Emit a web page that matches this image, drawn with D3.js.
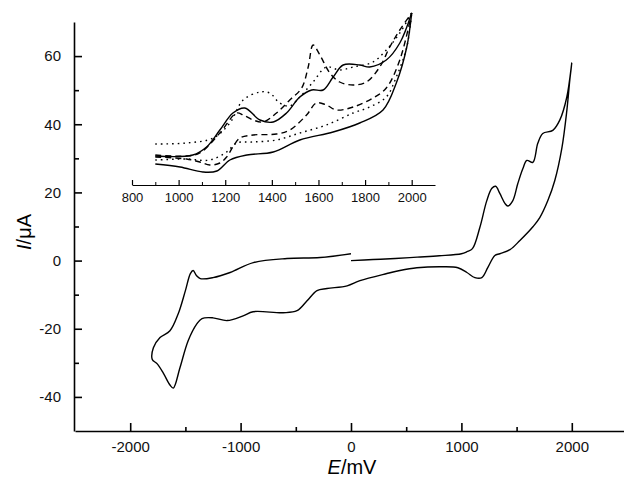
<!DOCTYPE html>
<html>
<head>
<meta charset="utf-8">
<style>
  body { margin: 0; background: #fff; }
  svg { display: block; }
  .axis text { font-family: "Liberation Sans", Arial, sans-serif; fill: #111; }
  .axis path, .axis line { stroke: #000; stroke-width: 1.6; }
  .curve { fill: none; stroke: #000; stroke-width: 1.4; stroke-linejoin: round; }
</style>
</head>
<body>
<svg id="chart" width="624" height="478"></svg>
<script src="https://d3js.org/d3.v7.min.js"></script>
<script>
// main cyclic voltammogram: E (mV), I (uA), in scan order
const cvE = [0, 200, 400, 600, 800, 1000, 1050, 1100, 1167, 1230, 1276, 1310, 1348, 1394, 1420, 1466, 1511, 1557, 1593, 1647, 1692, 1737, 1828, 1891, 1955, 2000,
  1982, 1955, 1910, 1846, 1783, 1710, 1650, 1530, 1440, 1348, 1303, 1240, 1185, 1122, 1050, 968, 833, 597, 443, 325, 81, -35, -217, -308, -398, -489, -615, -887, -977, -1122, -1250, -1350, -1395, -1475, -1550, -1610, -1640, -1700, -1755, -1800,
  -1790, -1730, -1640, -1565, -1500, -1455, -1430, -1400, -1365, -1250, -1095, -885, -580, -280, 0];
const cvI = [0, 0.3, 0.6, 1.0, 1.4, 2.0, 2.6, 3.5, 9.7, 17.6, 21.2, 21.8, 19.7, 16.8, 16.0, 17.6, 22.6, 27.0, 29.4, 28.8, 34.4, 37.3, 38.2, 41.2, 48.0, 58.0,
  53.0, 44.0, 33.0, 23.5, 17.6, 12.6, 10.0, 5.9, 3.2, 2.0, 1.5, -2.0, -5.0, -5.0, -3.5, -2.1, -1.8, -2.1, -2.9, -3.8, -5.9, -7.4, -8.2, -8.8, -11.8, -14.7, -15.3, -15.0, -16.2, -17.6, -16.8, -17.0, -18.5, -23.5, -31.5, -37.4, -36.5, -33.0, -30.3, -29.0,
  -25.6, -22.6, -20.6, -15.6, -8.8, -3.8, -2.9, -4.4, -5.3, -5.0, -3.5, -0.6, 0.6, 0.9, 2.0];

// inset: anodic region, three scans (forward / reverse branch each), arbitrary current units
const solidUpE = [900, 1061, 1120, 1177, 1233, 1284, 1349, 1406, 1463, 1520, 1571, 1620, 1663, 1706, 1777, 1820, 1891, 1949, 2000];
const solidUpI = [29, 30, 38, 55, 72, 77, 65, 63, 72, 88, 95, 95, 108, 120, 120, 118, 125, 142, 172];
const solidLoE = [900, 1006, 1104, 1164, 1220, 1293, 1406, 1520, 1663, 1777, 1877, 1934, 1979, 2000];
const solidLoI = [21, 18, 13, 14, 25, 30, 33, 45, 53, 62, 75, 102, 138, 172];
const dashUpE = [900, 1034, 1091, 1177, 1249, 1277, 1320, 1363, 1420, 1477, 1528, 1556, 1577, 1606, 1649, 1691, 1749, 1806, 1863, 1906, 1949, 2000];
const dashUpI = [30, 29, 32, 52, 72, 70, 65, 63, 72, 85, 97, 118, 140, 130, 112, 103, 100, 103, 118, 138, 155, 172];
const dashLoE = [900, 1034, 1091, 1134, 1177, 1206, 1233, 1263, 1320, 1420, 1477, 1549, 1591, 1634, 1677, 1749, 1834, 1891, 1949, 2000];
const dashLoI = [28, 26, 23, 20, 22, 28, 38, 47, 50, 51, 55, 70, 82, 80, 75, 78, 87, 97, 125, 172];
const dotUpE = [900, 1034, 1149, 1220, 1277, 1349, 1391, 1434, 1477, 1520, 1577, 1634, 1691, 1749, 1834, 1891, 1949, 2000];
const dotUpI = [41, 42, 47, 62, 85, 93, 92, 82, 79, 88, 103, 118, 115, 118, 123, 135, 152, 172];
const dotLoE = [900, 1034, 1134, 1206, 1249, 1320, 1420, 1520, 1634, 1749, 1820, 1891, 1934, 1979, 2000];
const dotLoI = [25, 26, 25, 33, 42, 43, 45, 52, 60, 72, 78, 88, 108, 138, 172];

const xMajor = [-2000, -1000, 0, 1000, 2000];
const xMinor = [-1500, -500, 500, 1500];
const yMajor = [-40, -20, 0, 20, 40, 60];
const yMinor = [-30, -10, 10, 30, 50];
const insetMajor = [800, 1000, 1200, 1400, 1600, 1800, 2000];
const insetMinor = [900, 1100, 1300, 1500, 1700, 1900];

const svg = d3.select("#chart");
const fmt = d => String(d);   // plain hyphen minus, as in the figure

const x = d3.scaleLinear().domain([-2500, 2500]).range([75, 627]);
const y = d3.scaleLinear().domain([-50, 70]).range([431, 22]);

// main axes
const gx = svg.append("g").attr("class", "axis").attr("transform", "translate(0,431)")
  .call(d3.axisBottom(x).tickValues(xMajor).tickSize(-8).tickSizeOuter(0).tickPadding(10).tickFormat(fmt));
gx.selectAll("text").attr("font-size", 15).attr("font-family", null);
svg.append("g").attr("class", "axis").attr("transform", "translate(0,431)")
  .call(d3.axisBottom(x).tickValues(xMinor).tickSize(-4).tickFormat(""))
  .select(".domain").remove();

const gy = svg.append("g").attr("class", "axis").attr("transform", "translate(74,0)")
  .call(d3.axisLeft(y).tickValues(yMajor).tickSize(-8).tickSizeOuter(0).tickPadding(13).tickFormat(fmt));
gy.selectAll("text").attr("font-size", 15).attr("font-family", null);
svg.append("g").attr("class", "axis").attr("transform", "translate(74,0)")
  .call(d3.axisLeft(y).tickValues(yMinor).tickSize(-5).tickFormat(""))
  .select(".domain").remove();

// axis titles
const xt = svg.append("text").attr("x", 352).attr("y", 474).attr("text-anchor", "middle")
  .attr("font-family", "Liberation Sans, Arial, sans-serif").attr("font-size", 20);
xt.append("tspan").attr("font-style", "italic").text("E");
xt.append("tspan").text("/mV");

const yt = svg.append("text").attr("transform", "translate(31,232) rotate(-90)").attr("text-anchor", "middle")
  .attr("font-family", "Liberation Sans, Arial, sans-serif").attr("font-size", 20);
yt.append("tspan").attr("font-style", "italic").text("I");
yt.append("tspan").text("/\u03bcA");

// main curve
const line = d3.line().x(d => x(d[0])).y(d => y(d[1])).curve(d3.curveCatmullRom.alpha(0.5));
svg.append("path").attr("class", "curve").attr("d", line(d3.zip(cvE, cvI)));

// inset
const ix = d3.scaleLinear().domain([800, 2100]).range([132, 435]);
const iy = d3.scaleLinear().domain([0, 172]).range([185, 13]);

const gi = svg.append("g").attr("class", "axis").attr("transform", "translate(0,185)")
  .call(d3.axisBottom(ix).tickValues(insetMajor).tickSize(-5).tickSizeOuter(0).tickPadding(8).tickFormat(fmt));
gi.selectAll("text").attr("font-size", 13).attr("font-family", null);
gi.selectAll("path, line").style("stroke-width", 1.2);
svg.append("g").attr("class", "axis").attr("transform", "translate(0,185)")
  .call(d3.axisBottom(ix).tickValues(insetMinor).tickSize(-3).tickFormat(""))
  .call(g => g.select(".domain").remove())
  .selectAll("line").style("stroke-width", 1);

const iline = d3.line().x(d => ix(d[0])).y(d => iy(d[1])).curve(d3.curveCatmullRom.alpha(0.5));
const insetCurves = [
  { e: solidUpE, i: solidUpI, dash: null },
  { e: solidLoE, i: solidLoI, dash: null },
  { e: dashUpE, i: dashUpI, dash: "6,4" },
  { e: dashLoE, i: dashLoI, dash: "6,4" },
  { e: dotUpE, i: dotUpI, dash: "1.6,4" },
  { e: dotLoE, i: dotLoI, dash: "1.6,4" }
];
svg.selectAll("path.inset").data(insetCurves).enter().append("path")
  .attr("class", "curve inset")
  .attr("stroke-dasharray", d => d.dash)
  .attr("d", d => iline(d3.zip(d.e, d.i)));
</script>
</body>
</html>
